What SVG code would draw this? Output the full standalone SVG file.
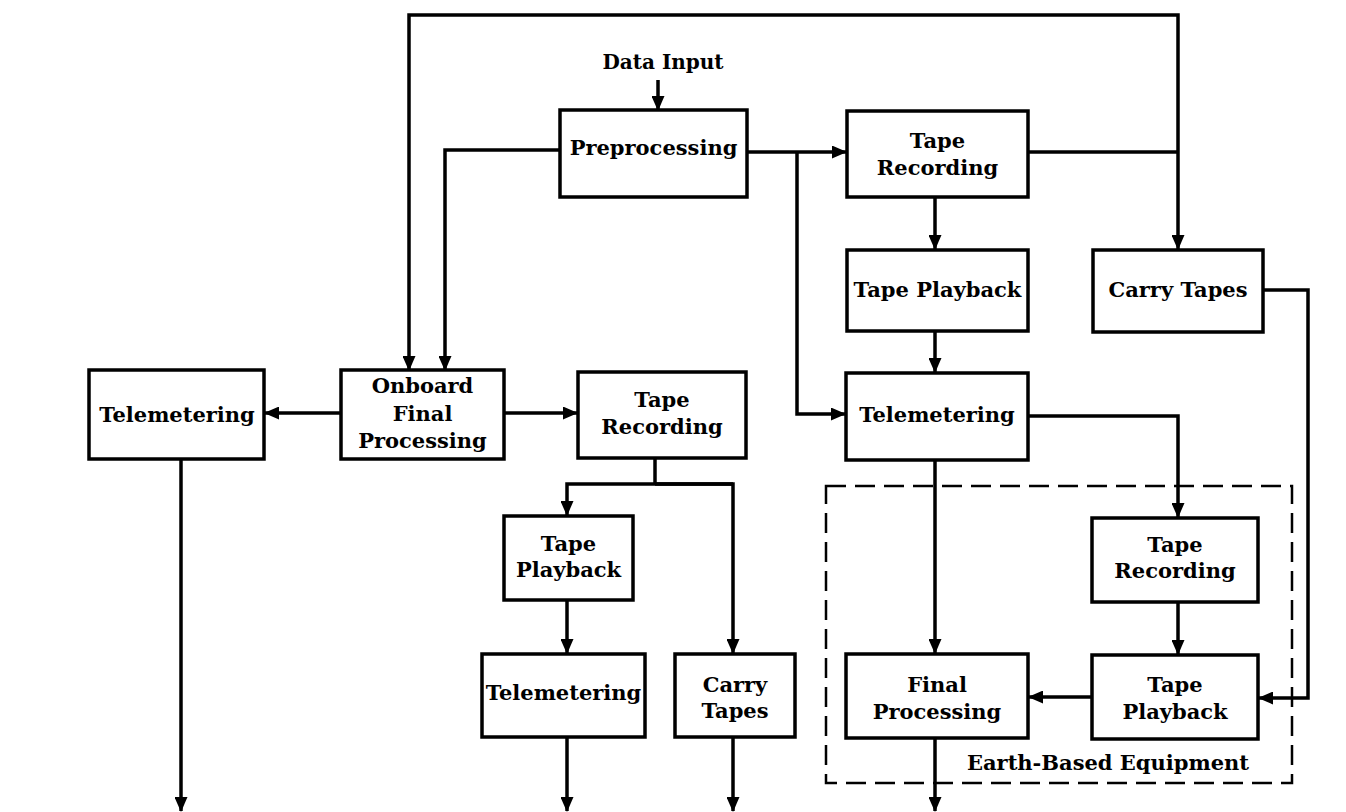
<svg xmlns="http://www.w3.org/2000/svg" width="1346" height="812" viewBox="0 0 1346 812">
<style>
.box{fill:#fff;stroke:#000;stroke-width:3.5}
.ln{fill:none;stroke:#000;stroke-width:3.5}
.arr{marker-end:url(#ah)}
.dash{fill:none;stroke:#000;stroke-width:2.5;stroke-dasharray:20 9}
text{font-family:"DejaVu Serif","Liberation Serif",serif;font-weight:bold;font-size:21px;text-anchor:middle;fill:#000}
.small{font-size:20px}
</style>
<defs>
<marker id="ah" markerUnits="userSpaceOnUse" markerWidth="15" markerHeight="13" refX="14" refY="6.5" orient="auto">
<path d="M0,0 L15,6.5 L0,13 Z" fill="#000"/>
</marker>
</defs>
<rect width="1346" height="812" fill="#fff"/>
<g id="connectors">
<path class="ln arr" d="M658,80 V110"/>
<path class="ln arr" d="M560,150 H445 V370"/>
<path class="ln" d="M1028,152 H1178"/>
<path class="ln arr" d="M1178,152 V249"/>
<path class="ln arr" d="M1178,152 V15 H409 V370"/>
<path class="ln arr" d="M747,152 H846"/>
<path class="ln arr" d="M797,152 V414 H845"/>
<path class="ln arr" d="M935,197 V249"/>
<path class="ln arr" d="M935,331 V372"/>
<path class="ln arr" d="M935,460 V653"/>
<path class="ln arr" d="M1028,416 H1178 V517"/>
<path class="ln arr" d="M1178,602 V654"/>
<path class="ln arr" d="M1092,697 H1029"/>
<path class="ln arr" d="M1263,290 H1308 V698 H1259"/>
<path class="ln arr" d="M935,738 V811"/>
<path class="ln arr" d="M341,413 H265"/>
<path class="ln arr" d="M504,413 H577"/>
<path class="ln" d="M655,458 V484"/>
<path class="ln arr" d="M733,484 H567 V515"/>
<path class="ln arr" d="M655,484 H733 V653"/>
<path class="ln arr" d="M567,600 V653"/>
<path class="ln arr" d="M567,737 V811"/>
<path class="ln arr" d="M733,737 V811"/>
<path class="ln arr" d="M181,459 V811"/>
</g>
<g id="earth-based-equipment">
<rect class="dash" x="826" y="486" width="466" height="297"/>
<text x="1108" y="770">Earth-Based Equipment</text>
</g>
<g id="data-input"><text class="small" x="663" y="69">Data Input</text></g>
<g id="preprocessing"><rect class="box" x="560" y="110" width="187" height="87"/><text x="653.5" y="155">Preprocessing</text></g>
<g id="tape-recording-1"><rect class="box" x="847" y="111" width="181" height="86"/><text x="937.5" y="148">Tape</text><text x="937.5" y="175">Recording</text></g>
<g id="tape-playback-1"><rect class="box" x="847" y="250" width="181" height="81"/><text x="937.5" y="297">Tape Playback</text></g>
<g id="carry-tapes-1"><rect class="box" x="1093" y="250" width="170" height="82"/><text x="1178" y="297">Carry Tapes</text></g>
<g id="telemetering-1"><rect class="box" x="846" y="373" width="182" height="87"/><text x="937" y="422">Telemetering</text></g>
<g id="telemetering-2"><rect class="box" x="89" y="370" width="175" height="89"/><text x="177" y="422">Telemetering</text></g>
<g id="onboard-final-processing"><rect class="box" x="341" y="370" width="163" height="89"/><text x="422.5" y="393">Onboard</text><text x="422.5" y="421">Final</text><text x="422.5" y="448">Processing</text></g>
<g id="tape-recording-2"><rect class="box" x="578" y="372" width="168" height="86"/><text x="662" y="407">Tape</text><text x="662" y="434">Recording</text></g>
<g id="tape-playback-2"><rect class="box" x="504" y="516" width="129" height="84"/><text x="568.5" y="551">Tape</text><text x="568.5" y="577">Playback</text></g>
<g id="telemetering-3"><rect class="box" x="482" y="654" width="163" height="83"/><text x="563.5" y="700">Telemetering</text></g>
<g id="carry-tapes-2"><rect class="box" x="675" y="654" width="120" height="83"/><text x="735" y="692">Carry</text><text x="735" y="718">Tapes</text></g>
<g id="tape-recording-3"><rect class="box" x="1092" y="518" width="166" height="84"/><text x="1175" y="552">Tape</text><text x="1175" y="578">Recording</text></g>
<g id="tape-playback-3"><rect class="box" x="1092" y="655" width="166" height="84"/><text x="1175" y="692">Tape</text><text x="1175" y="719">Playback</text></g>
<g id="final-processing"><rect class="box" x="846" y="654" width="182" height="84"/><text x="937" y="692">Final</text><text x="937" y="719">Processing</text></g>
</svg>
